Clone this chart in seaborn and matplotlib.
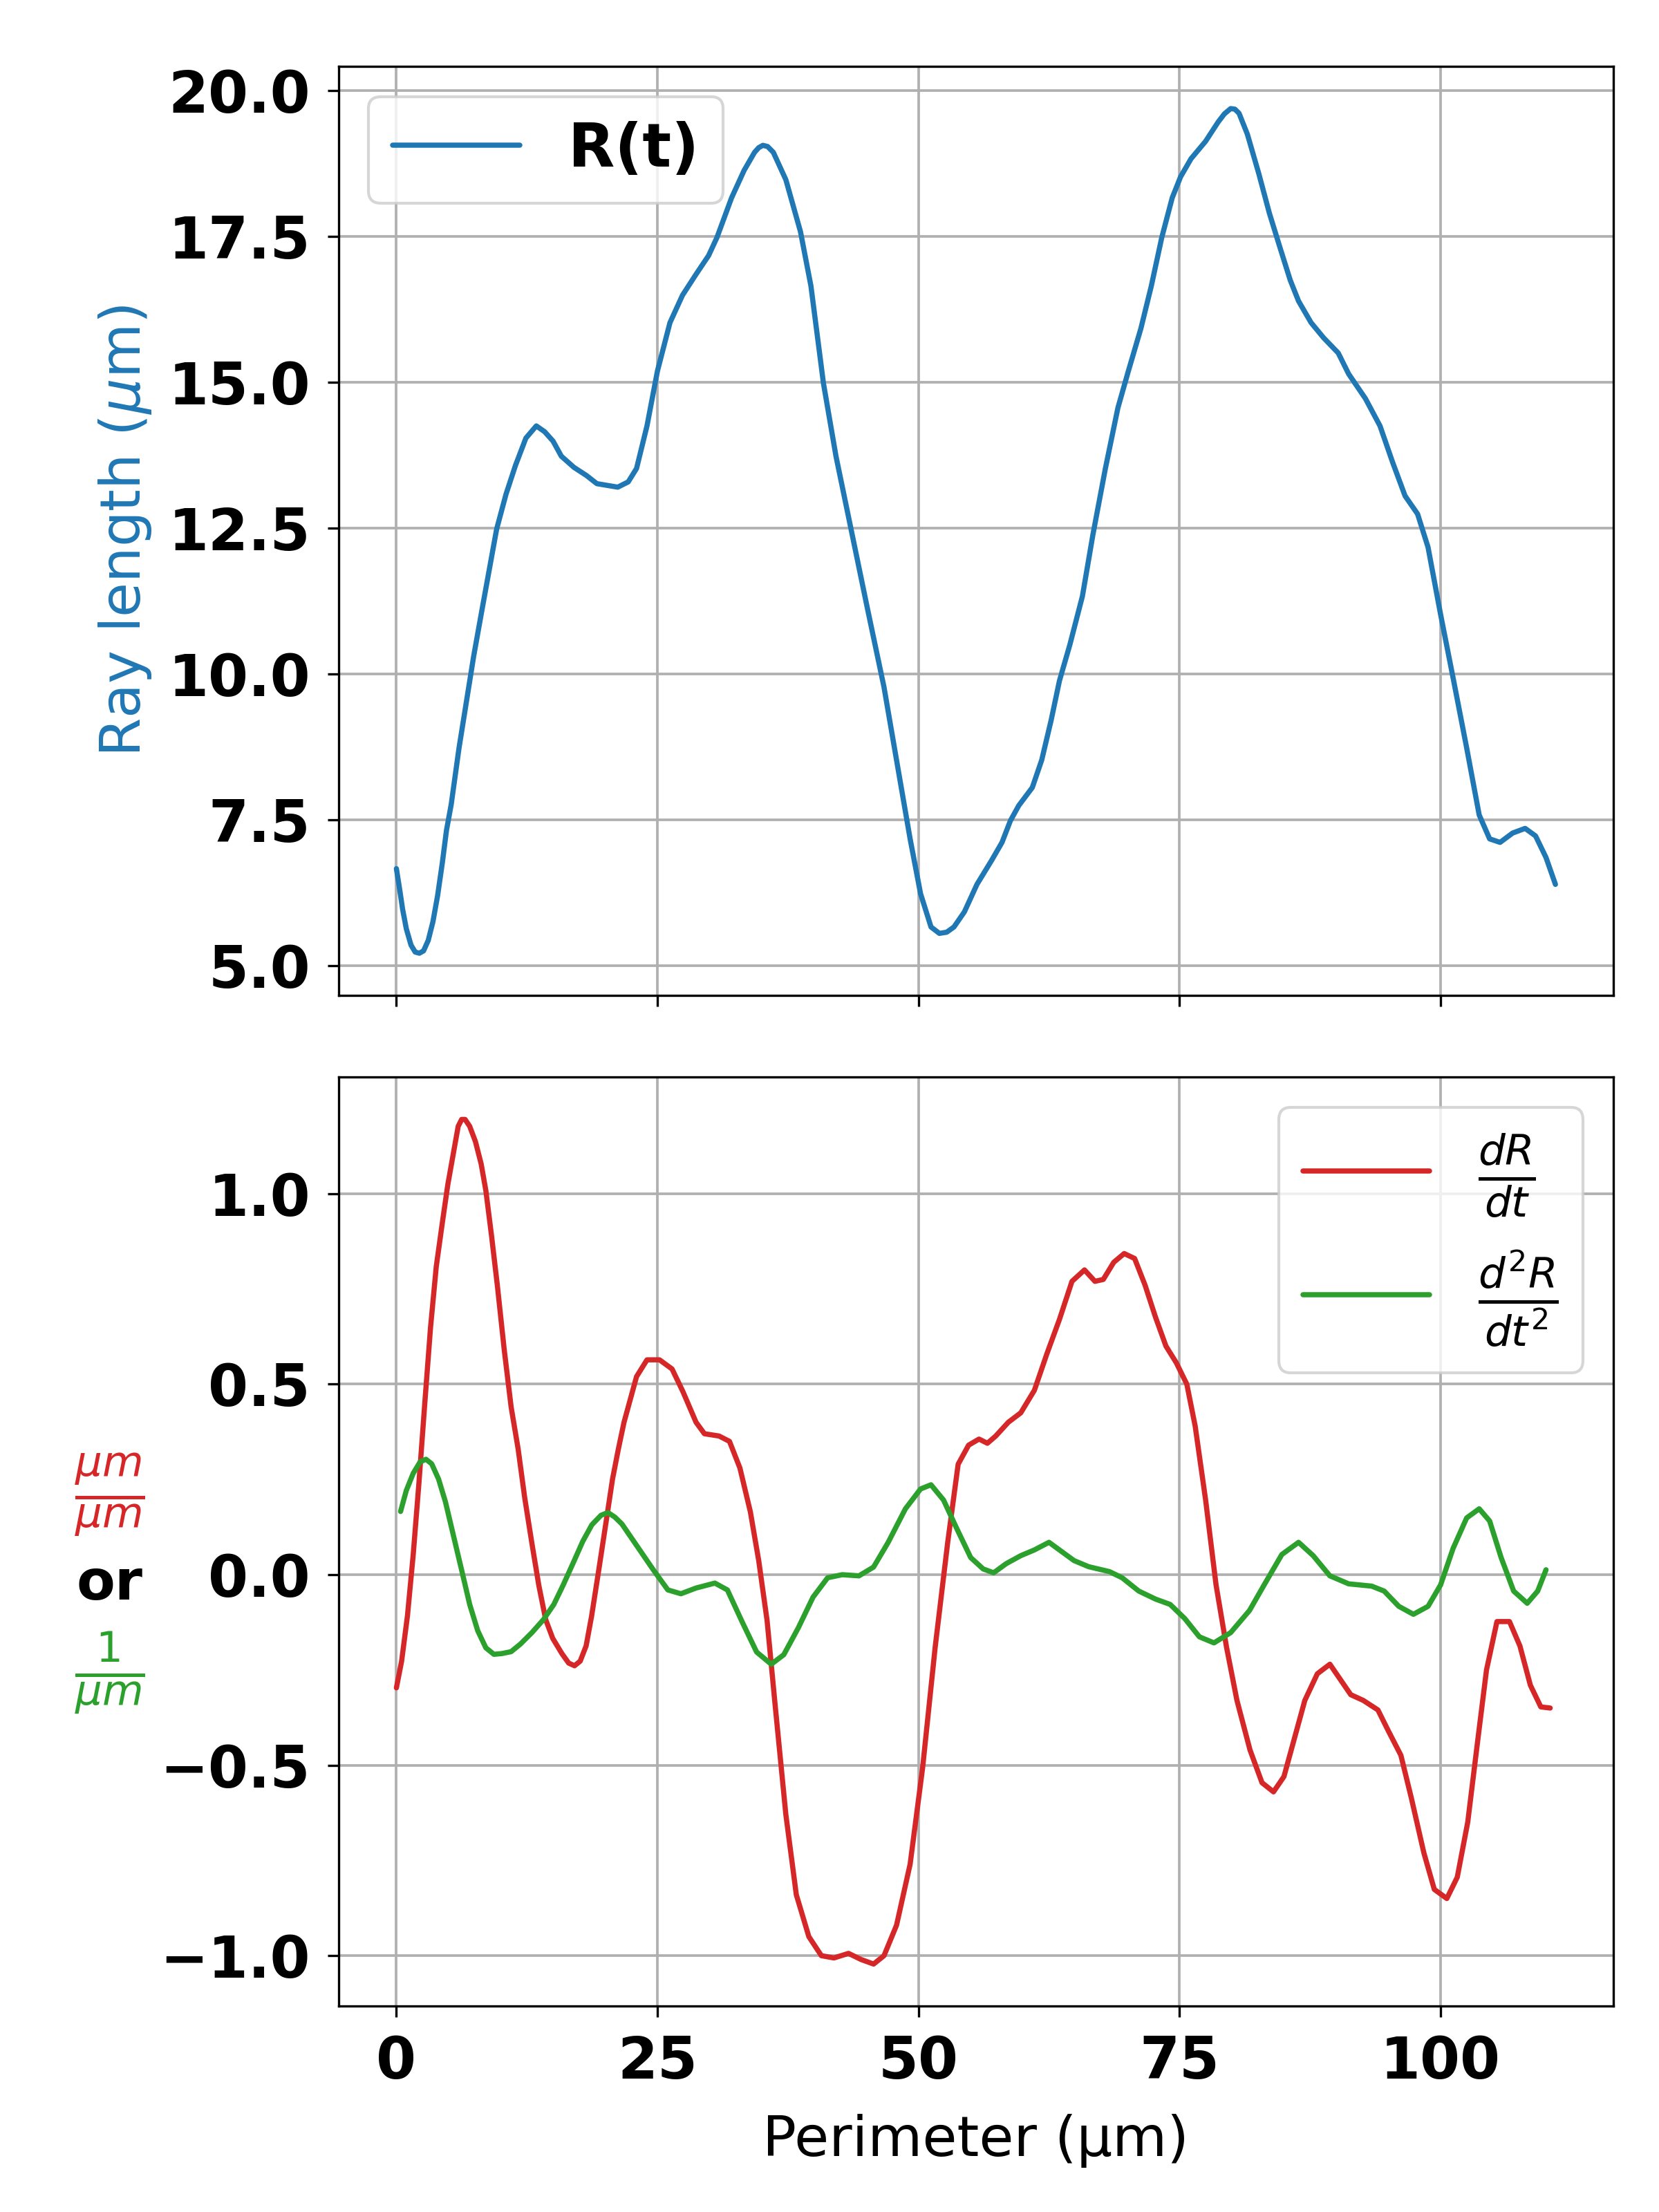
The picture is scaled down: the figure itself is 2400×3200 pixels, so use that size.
import numpy as np
import pandas as pd
import matplotlib
matplotlib.use("Agg")
import matplotlib.pyplot as plt
import seaborn as sns

# ---------------- data ----------------
t_R = [0.0, 0.3, 0.6, 0.95, 1.4, 1.8, 2.2, 2.6, 3.05, 3.5, 3.95, 4.4, 4.8, 5.25,
       6.0, 7.4, 8.2, 9.6, 10.5, 11.4, 12.4, 13.4,
       14.2, 15.0, 15.8, 17.0, 18.2, 19.2, 21.2, 22.2, 23.0, 24.0, 25.0, 26.2,
       27.4, 28.7, 29.9, 30.7, 32.1, 33.3, 34.3, 34.7, 35.1, 35.55, 36.1, 37.3,
       38.7, 39.7, 40.9, 42.1, 43.9, 45.1, 46.7, 47.9, 49.2, 50.2, 51.2, 52.0,
       52.7, 53.4, 54.4,
       55.6, 57.0, 58.0, 58.8, 59.6, 60.9, 61.8, 62.7, 63.5, 64.5, 65.7, 66.7,
       67.9, 69.1, 70.1, 71.3, 72.3, 73.3, 74.3, 75.1, 76.1, 77.5, 78.7, 79.3,
       79.9, 80.3, 80.7, 81.5, 82.6, 83.6, 84.6, 85.6, 86.4, 87.6, 88.8, 90.2,
       91.2, 92.8, 94.2, 95.4, 96.6, 97.8, 98.8, 100.0, 101.2, 102.5, 103.7,
       104.7, 105.7, 106.9, 108.1, 109.1, 110.1, 111.0]
R_vals = [6.66, 6.32, 5.96, 5.63, 5.35, 5.23, 5.21, 5.25, 5.43, 5.75, 6.2, 6.76,
          7.32, 7.76,
          8.73, 10.3, 11.1, 12.48, 13.08, 13.57,
          14.04, 14.25, 14.15, 13.99, 13.73, 13.54, 13.4, 13.26, 13.2, 13.29,
          13.52, 14.25, 15.19, 16.02, 16.49, 16.85, 17.17, 17.48, 18.16, 18.63,
          18.94, 19.02, 19.06, 19.04, 18.94, 18.47,
          17.58, 16.65, 14.98, 13.73, 12.17, 11.13, 9.77, 8.52, 7.17, 6.23,
          5.66, 5.55, 5.57, 5.66, 5.92,
          6.39, 6.8, 7.11, 7.48, 7.74, 8.05, 8.52, 9.2, 9.88, 10.5, 11.33, 12.38,
          13.52, 14.56, 15.19, 15.92, 16.65, 17.48, 18.16, 18.52, 18.83, 19.13,
          19.46, 19.6, 19.69, 19.68, 19.61, 19.25, 18.57, 17.9, 17.32, 16.75,
          16.39, 16.02, 15.76, 15.5, 15.14, 14.72, 14.25, 13.63, 13.05, 12.74,
          12.17, 11.02, 9.93, 8.73, 7.58, 7.17, 7.11, 7.27, 7.35, 7.22, 6.85,
          6.39]

t_d1 = [0.0, 0.5, 1.06, 1.61, 2.16, 2.72, 3.27, 3.82, 4.37, 4.92, 5.47, 5.92,
        6.25, 6.58, 7.02, 7.57, 8.12, 8.57, 9.12, 9.67, 10.33, 10.99, 11.66,
        12.3, 12.98, 13.64, 14.3, 14.97, 15.85, 16.5, 17.06, 17.6, 18.17, 18.7,
        19.38, 20.04, 20.7, 21.26, 21.8,
        23.0, 24.0, 25.2, 26.4, 27.45, 28.7, 29.5, 30.9, 31.9, 32.9, 33.9, 34.7,
        35.5, 36.3, 37.3, 38.3, 39.5, 40.7, 41.9, 43.3, 44.5, 45.7, 46.7, 47.9,
        49.2, 50.4, 51.6, 52.8, 53.8, 54.8, 55.8, 56.6, 57.4, 58.6, 59.8, 61.1,
        62.3, 63.5, 64.7, 65.9, 66.9, 67.7, 68.7, 69.7, 70.7, 71.7, 72.7, 73.7,
        74.7, 75.7, 76.5, 77.5, 78.5, 79.5, 80.5, 81.75, 82.9, 84.0, 85.0, 86.0,
        87.0, 88.2, 89.4, 90.4, 91.4, 92.6, 94.0, 95.0, 96.2, 97.2, 98.4, 99.4,
        100.6, 101.6, 102.6, 103.6, 104.4, 105.4, 106.6, 107.6, 108.6, 109.6,
        110.5]
dR_vals = [-0.297, -0.227, -0.108, 0.052, 0.241, 0.45, 0.649, 0.809, 0.918,
           1.023, 1.108, 1.177, 1.195, 1.195, 1.177, 1.137, 1.078, 1.008, 0.888,
           0.759, 0.59, 0.44, 0.33, 0.20, 0.082, -0.028, -0.118, -0.167, -0.207,
           -0.232, -0.239, -0.227, -0.187, -0.108, 0.012, 0.131, 0.251, 0.33,
           0.40,
           0.52, 0.564, 0.564, 0.54, 0.48, 0.40, 0.37,
           0.364, 0.35, 0.28, 0.165, 0.037, -0.12, -0.35, -0.63, -0.84, -0.95,
           -1.0, -1.006, -0.994, -1.01, -1.022, -1.0, -0.92, -0.76, -0.506, -0.19,
           0.085, 0.29, 0.34, 0.356, 0.345, 0.364, 0.40, 0.425, 0.484, 0.58, 0.67,
           0.77, 0.80, 0.77, 0.775, 0.82, 0.843, 0.83, 0.76, 0.676, 0.60, 0.556,
           0.50, 0.39, 0.196, -0.027, -0.19, -0.33, -0.46, -0.546, -0.57, -0.53,
           -0.43, -0.33, -0.26, -0.235, -0.275, -0.315, -0.33, -0.355, -0.41,
           -0.474, -0.586, -0.73, -0.826, -0.85, -0.794, -0.65, -0.426, -0.25,
           -0.123, -0.123, -0.187, -0.29, -0.347, -0.35]

t_d2 = [0.4, 0.95, 1.61, 2.27, 2.83, 3.38, 4.04, 4.7, 5.47, 6.25, 7.02, 7.79,
        8.57, 9.34, 10.11, 10.99, 11.88, 12.98, 14.08, 15.08, 15.96, 16.95,
        17.84, 18.72, 19.6, 20.27, 20.93, 21.6,
        23.0, 24.6, 26.0, 27.25, 28.7, 30.5, 31.7,
        33.1, 34.5, 35.9, 37.1, 38.5, 39.9, 41.3, 42.7, 44.3, 45.7, 47.1, 48.75,
        50.2, 51.2, 52.4, 53.6, 55.0, 56.2, 57.2, 58.4, 59.8, 61.1, 62.5, 63.5,
        64.9, 66.3, 68.3, 69.5, 71.1, 72.7, 74.1, 75.5, 76.9, 78.3, 79.9, 81.7,
        83.1, 84.8, 86.4, 87.8, 89.4, 91.2, 93.4, 94.6, 96.0, 97.4, 98.8, 100.0,
        101.2, 102.5, 103.7, 104.7, 105.8, 107.0, 108.3, 109.3, 110.1]
d2R_vals = [0.166, 0.221, 0.266, 0.296, 0.303, 0.291, 0.251, 0.191, 0.102,
            0.012, -0.078, -0.147, -0.192, -0.209, -0.207, -0.202, -0.182,
            -0.152, -0.118, -0.078, -0.028, 0.032, 0.087, 0.131, 0.156, 0.163,
            0.151, 0.133,
            0.077, 0.013, -0.04, -0.05, -0.035, -0.022, -0.04, -0.123, -0.203,
            -0.235, -0.21, -0.139, -0.059, -0.008, 0.0, -0.003, 0.02, 0.085,
            0.173, 0.225, 0.236, 0.196, 0.125, 0.045, 0.015, 0.005, 0.029, 0.05,
            0.065, 0.085, 0.065, 0.037, 0.021, 0.008, -0.008, -0.043, -0.064,
            -0.078, -0.115, -0.163, -0.179, -0.152, -0.094, -0.027, 0.053, 0.085,
            0.05, -0.003, -0.024, -0.03, -0.043, -0.083, -0.104, -0.083, -0.027,
            0.069, 0.149, 0.173, 0.141, 0.045, -0.043, -0.075, -0.043, 0.013]

x_ticks = [0, 25, 50, 75, 100]
y1_ticks = [5.0, 7.5, 10.0, 12.5, 15.0, 17.5, 20.0]
y2_ticks = [-1.0, -0.5, 0.0, 0.5, 1.0]

# ---------------- style ----------------
sns.set_style("ticks", {
    "axes.edgecolor": "black",
    "axes.labelcolor": "black",
    "text.color": "black",
    "axes.linewidth": 0.8,
    "xtick.color": "black",
    "ytick.color": "black",
    "axes.grid": True,
    "grid.color": "#b0b0b0",
    "grid.linestyle": "-",
    "xtick.direction": "out",
    "ytick.direction": "out",
})
plt.rcParams["font.family"] = ["DejaVu Sans"]
plt.rcParams["mathtext.fontset"] = "dejavusans"
plt.rcParams["text.color"] = "black"
plt.rcParams["axes.labelcolor"] = "black"
plt.rcParams["grid.linewidth"] = 0.9
plt.rcParams["lines.linewidth"] = 1.8
plt.rcParams["lines.solid_joinstyle"] = "round"
plt.rcParams["xtick.major.size"] = 3.8
plt.rcParams["ytick.major.size"] = 3.8
plt.rcParams["xtick.major.width"] = 0.8
plt.rcParams["ytick.major.width"] = 0.8
plt.rcParams["xtick.major.pad"] = 6
plt.rcParams["ytick.major.pad"] = 6

TICK_FS = 20
LABEL_FS = 19.5
FRAC_FS = 21
LEG_FS = 21
LW = 1.8
BLUE = "#1f77b4"
RED = "#d62728"
GREEN = "#2ca02c"

fig, (ax1, ax2) = plt.subplots(2, 1, sharex=True, figsize=(8, 32 / 3), dpi=300)
fig.subplots_adjust(left=0.204, right=0.9725, top=0.970, bottom=0.093, hspace=0.088)

df_R = pd.DataFrame({"t": t_R, "R": R_vals})
df_1 = pd.DataFrame({"t": t_d1, "v": dR_vals})
df_2 = pd.DataFrame({"t": t_d2, "v": d2R_vals})

sns.lineplot(data=df_R, x="t", y="R", ax=ax1, color=BLUE, lw=LW, label="R(t)")
sns.lineplot(data=df_1, x="t", y="v", ax=ax2, color=RED, lw=LW,
             label=r"$\frac{dR}{dt}$")
sns.lineplot(data=df_2, x="t", y="v", ax=ax2, color=GREEN, lw=LW,
             label=r"$\frac{d^2R}{dt^2}$")

for ax in (ax1, ax2):
    ax.grid(True, color="#b0b0b0", lw=0.9)
    for s in ax.spines.values():
        s.set_visible(True)
        s.set_color("black")
        s.set_linewidth(0.8)

ax2.set_xticks(x_ticks)
ax1.set_yticks(y1_ticks)
ax2.set_yticks(y2_ticks)
ax1.tick_params(labelsize=TICK_FS, labelbottom=False)
ax2.tick_params(labelsize=TICK_FS)
for ax in (ax1, ax2):
    plt.setp(ax.get_xticklabels(), fontweight="bold", color="black")
    plt.setp(ax.get_yticklabels(), fontweight="bold", color="black")

ax1.set_xlabel("")
ax1.set_ylabel(r"Ray length ($\mu$m)", color=BLUE, fontsize=LABEL_FS, labelpad=5)
ax2.set_ylabel("")
ax2.set_xlabel("Perimeter (µm)", fontsize=LABEL_FS, labelpad=8, color="black")

leg_kw = dict(prop={"weight": "bold", "size": LEG_FS}, handlelength=2.1,
              handletextpad=0.8)
leg1 = ax1.legend(loc="upper left", **leg_kw)
leg2 = ax2.legend(loc="upper right", **leg_kw)
for leg in (leg1, leg2):
    for txt in leg.get_texts():
        txt.set_color("black")

# composite y-label of the lower panel
fig.text(0.066, 0.3245, r"$\frac{\mu m}{\mu m}$", color=RED, fontsize=FRAC_FS,
         ha="center", va="center")
fig.text(0.066, 0.2838, "or", color="black", fontsize=LABEL_FS, fontweight="bold",
         ha="center", va="center")
fig.text(0.066, 0.2437, r"$\frac{1}{\mu m}$", color=GREEN, fontsize=FRAC_FS,
         ha="center", va="center")

fig.savefig("out.png", dpi=300)
